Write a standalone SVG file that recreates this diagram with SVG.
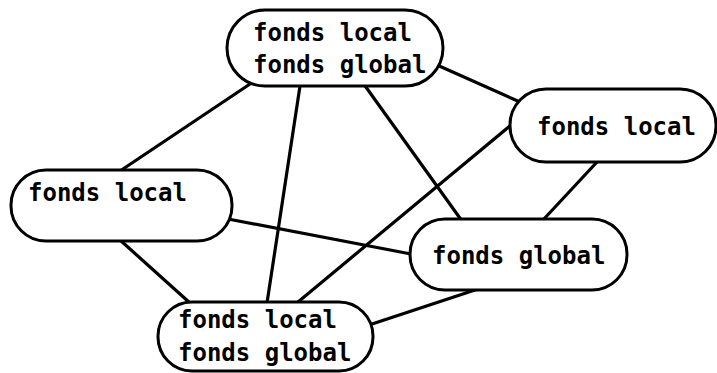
<svg xmlns="http://www.w3.org/2000/svg" width="717" height="373" viewBox="0 0 717 373">
<style>
.n{fill:#fff;stroke:#000;stroke-width:3}
.e{stroke:#000;stroke-width:3.2;fill:none;stroke-linecap:round}
text{font-family:"DejaVu Sans Mono","Liberation Mono",monospace;font-size:24px;font-weight:bold;fill:#000}
</style>
<rect width="717" height="373" fill="#fff"/>
<g id="edges">
<line class="e" x1="250" y1="84" x2="120" y2="171"/>
<line class="e" x1="300" y1="86" x2="267" y2="303"/>
<line class="e" x1="363" y1="83" x2="462" y2="221"/>
<line class="e" x1="437" y1="65" x2="520" y2="102"/>
<line class="e" x1="228" y1="219" x2="411" y2="254"/>
<line class="e" x1="120" y1="240" x2="190" y2="303"/>
<line class="e" x1="298" y1="302" x2="511" y2="125"/>
<line class="e" x1="372" y1="324" x2="478" y2="289"/>
<line class="e" x1="597" y1="162" x2="543" y2="220"/>
</g>
<g id="n1"><rect class="n" x="227" y="10" width="216" height="76" rx="38"/>
<text x="253" y="41">fonds local</text><text x="253" y="73">fonds global</text></g>
<g id="n2"><rect class="n" x="11" y="170" width="221" height="71" rx="35"/>
<text x="28" y="201">fonds local</text></g>
<g id="n3"><rect class="n" x="510" y="89" width="206" height="73" rx="36"/>
<text x="537" y="135">fonds local</text></g>
<g id="n4"><rect class="n" x="410" y="219" width="217" height="71" rx="35"/>
<text x="432" y="264">fonds global</text></g>
<g id="n5"><rect class="n" x="158" y="302" width="215" height="69" rx="34"/>
<text x="178" y="328">fonds local</text><text x="178" y="361">fonds global</text></g>
</svg>
